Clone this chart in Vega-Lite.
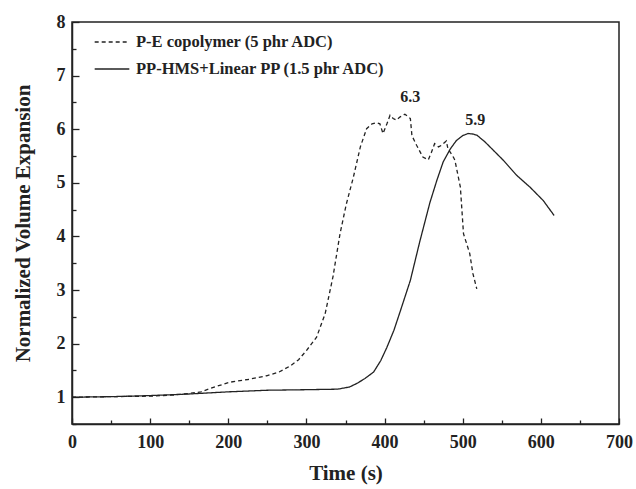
{
  "$schema": "https://vega.github.io/schema/vega-lite/v6.json",
  "width": 547,
  "height": 402,
  "autosize": {"type": "none"},
  "padding": {"left": 72, "top": 22, "right": 17, "bottom": 65},
  "background": "white",
  "config": {
    "view": {"stroke": "#222", "strokeWidth": 1.5},
    "font": "Liberation Serif"
  },
  "datasets": {
    "curves": [
      {"series": "P-E copolymer (5 phr ADC)", "t": 0, "v": 1.0},
      {"series": "P-E copolymer (5 phr ADC)", "t": 50, "v": 1.01},
      {"series": "P-E copolymer (5 phr ADC)", "t": 100, "v": 1.02},
      {"series": "P-E copolymer (5 phr ADC)", "t": 130, "v": 1.04},
      {"series": "P-E copolymer (5 phr ADC)", "t": 150, "v": 1.07},
      {"series": "P-E copolymer (5 phr ADC)", "t": 165, "v": 1.1},
      {"series": "P-E copolymer (5 phr ADC)", "t": 180, "v": 1.18},
      {"series": "P-E copolymer (5 phr ADC)", "t": 202, "v": 1.28},
      {"series": "P-E copolymer (5 phr ADC)", "t": 225, "v": 1.33},
      {"series": "P-E copolymer (5 phr ADC)", "t": 249, "v": 1.4},
      {"series": "P-E copolymer (5 phr ADC)", "t": 265, "v": 1.47},
      {"series": "P-E copolymer (5 phr ADC)", "t": 279, "v": 1.58},
      {"series": "P-E copolymer (5 phr ADC)", "t": 290, "v": 1.7},
      {"series": "P-E copolymer (5 phr ADC)", "t": 300, "v": 1.87},
      {"series": "P-E copolymer (5 phr ADC)", "t": 313, "v": 2.12},
      {"series": "P-E copolymer (5 phr ADC)", "t": 324, "v": 2.56},
      {"series": "P-E copolymer (5 phr ADC)", "t": 334, "v": 3.25},
      {"series": "P-E copolymer (5 phr ADC)", "t": 343, "v": 4.05},
      {"series": "P-E copolymer (5 phr ADC)", "t": 351, "v": 4.6},
      {"series": "P-E copolymer (5 phr ADC)", "t": 360, "v": 5.1},
      {"series": "P-E copolymer (5 phr ADC)", "t": 369, "v": 5.67},
      {"series": "P-E copolymer (5 phr ADC)", "t": 377, "v": 6.01},
      {"series": "P-E copolymer (5 phr ADC)", "t": 384, "v": 6.1},
      {"series": "P-E copolymer (5 phr ADC)", "t": 390, "v": 6.12},
      {"series": "P-E copolymer (5 phr ADC)", "t": 394, "v": 6.1},
      {"series": "P-E copolymer (5 phr ADC)", "t": 398, "v": 5.92},
      {"series": "P-E copolymer (5 phr ADC)", "t": 403, "v": 6.1},
      {"series": "P-E copolymer (5 phr ADC)", "t": 407, "v": 6.26},
      {"series": "P-E copolymer (5 phr ADC)", "t": 411, "v": 6.2},
      {"series": "P-E copolymer (5 phr ADC)", "t": 415, "v": 6.17},
      {"series": "P-E copolymer (5 phr ADC)", "t": 420, "v": 6.23},
      {"series": "P-E copolymer (5 phr ADC)", "t": 426, "v": 6.28},
      {"series": "P-E copolymer (5 phr ADC)", "t": 433, "v": 6.2},
      {"series": "P-E copolymer (5 phr ADC)", "t": 435, "v": 5.88},
      {"series": "P-E copolymer (5 phr ADC)", "t": 441, "v": 5.7},
      {"series": "P-E copolymer (5 phr ADC)", "t": 449, "v": 5.48},
      {"series": "P-E copolymer (5 phr ADC)", "t": 456, "v": 5.43},
      {"series": "P-E copolymer (5 phr ADC)", "t": 460, "v": 5.57},
      {"series": "P-E copolymer (5 phr ADC)", "t": 464, "v": 5.73},
      {"series": "P-E copolymer (5 phr ADC)", "t": 469, "v": 5.67},
      {"series": "P-E copolymer (5 phr ADC)", "t": 473, "v": 5.7},
      {"series": "P-E copolymer (5 phr ADC)", "t": 479, "v": 5.78},
      {"series": "P-E copolymer (5 phr ADC)", "t": 481, "v": 5.64},
      {"series": "P-E copolymer (5 phr ADC)", "t": 488, "v": 5.48},
      {"series": "P-E copolymer (5 phr ADC)", "t": 490, "v": 5.42},
      {"series": "P-E copolymer (5 phr ADC)", "t": 497, "v": 4.92},
      {"series": "P-E copolymer (5 phr ADC)", "t": 501, "v": 4.05},
      {"series": "P-E copolymer (5 phr ADC)", "t": 509, "v": 3.68},
      {"series": "P-E copolymer (5 phr ADC)", "t": 513, "v": 3.31},
      {"series": "P-E copolymer (5 phr ADC)", "t": 518, "v": 3.02},
      {"series": "PP-HMS+Linear PP (1.5 phr ADC)", "t": 0, "v": 1.0},
      {"series": "PP-HMS+Linear PP (1.5 phr ADC)", "t": 50, "v": 1.01},
      {"series": "PP-HMS+Linear PP (1.5 phr ADC)", "t": 100, "v": 1.03},
      {"series": "PP-HMS+Linear PP (1.5 phr ADC)", "t": 150, "v": 1.06},
      {"series": "PP-HMS+Linear PP (1.5 phr ADC)", "t": 200, "v": 1.1},
      {"series": "PP-HMS+Linear PP (1.5 phr ADC)", "t": 250, "v": 1.13},
      {"series": "PP-HMS+Linear PP (1.5 phr ADC)", "t": 300, "v": 1.14},
      {"series": "PP-HMS+Linear PP (1.5 phr ADC)", "t": 340, "v": 1.15},
      {"series": "PP-HMS+Linear PP (1.5 phr ADC)", "t": 355, "v": 1.19},
      {"series": "PP-HMS+Linear PP (1.5 phr ADC)", "t": 365, "v": 1.26},
      {"series": "PP-HMS+Linear PP (1.5 phr ADC)", "t": 375, "v": 1.35},
      {"series": "PP-HMS+Linear PP (1.5 phr ADC)", "t": 386, "v": 1.47},
      {"series": "PP-HMS+Linear PP (1.5 phr ADC)", "t": 395, "v": 1.68},
      {"series": "PP-HMS+Linear PP (1.5 phr ADC)", "t": 403, "v": 1.93},
      {"series": "PP-HMS+Linear PP (1.5 phr ADC)", "t": 412, "v": 2.25},
      {"series": "PP-HMS+Linear PP (1.5 phr ADC)", "t": 420, "v": 2.6},
      {"series": "PP-HMS+Linear PP (1.5 phr ADC)", "t": 433, "v": 3.18},
      {"series": "PP-HMS+Linear PP (1.5 phr ADC)", "t": 445, "v": 3.9},
      {"series": "PP-HMS+Linear PP (1.5 phr ADC)", "t": 458, "v": 4.63},
      {"series": "PP-HMS+Linear PP (1.5 phr ADC)", "t": 467, "v": 5.05},
      {"series": "PP-HMS+Linear PP (1.5 phr ADC)", "t": 475, "v": 5.39},
      {"series": "PP-HMS+Linear PP (1.5 phr ADC)", "t": 484, "v": 5.63},
      {"series": "PP-HMS+Linear PP (1.5 phr ADC)", "t": 492, "v": 5.79},
      {"series": "PP-HMS+Linear PP (1.5 phr ADC)", "t": 500, "v": 5.88},
      {"series": "PP-HMS+Linear PP (1.5 phr ADC)", "t": 507, "v": 5.92},
      {"series": "PP-HMS+Linear PP (1.5 phr ADC)", "t": 513, "v": 5.91},
      {"series": "PP-HMS+Linear PP (1.5 phr ADC)", "t": 518, "v": 5.89},
      {"series": "PP-HMS+Linear PP (1.5 phr ADC)", "t": 528, "v": 5.77},
      {"series": "PP-HMS+Linear PP (1.5 phr ADC)", "t": 539, "v": 5.61},
      {"series": "PP-HMS+Linear PP (1.5 phr ADC)", "t": 552, "v": 5.42},
      {"series": "PP-HMS+Linear PP (1.5 phr ADC)", "t": 569, "v": 5.14},
      {"series": "PP-HMS+Linear PP (1.5 phr ADC)", "t": 586, "v": 4.92},
      {"series": "PP-HMS+Linear PP (1.5 phr ADC)", "t": 603, "v": 4.67},
      {"series": "PP-HMS+Linear PP (1.5 phr ADC)", "t": 617, "v": 4.39}
    ],
    "labels": [
      {"t": 433, "v": 6.6, "text": "6.3"},
      {"t": 516, "v": 6.18, "text": "5.9"}
    ]
  },
  "encoding": {
    "x": {
      "field": "t", "type": "quantitative",
      "scale": {"domain": [0, 700], "nice": false},
      "axis": {
        "title": "Time (s)",
        "values": [0, 50, 100, 150, 200, 250, 300, 350, 400, 450, 500, 550, 600, 650, 700],
        "labelExpr": "datum.value % 100 == 0 ? datum.label : ''",
        "grid": false,
        "domainColor": "#222", "domainWidth": 1.5,
        "tickColor": "#222", "tickWidth": 1.3,
        "tickSize": {"condition": {"test": "datum.value % 100 == 0", "value": -6}, "value": -4},
        "labelFont": "Liberation Serif", "labelFontWeight": "bold", "labelFontSize": 18, "labelColor": "#222",
        "labelPadding": 15, "labelFlush": false, "labelOverlap": false,
        "titleFont": "Liberation Serif", "titleFontWeight": "bold", "titleFontSize": 21, "titleColor": "#222",
        "titlePadding": 9
      }
    },
    "y": {
      "field": "v", "type": "quantitative",
      "scale": {"domain": [0.5, 8], "nice": false, "zero": false},
      "axis": {
        "title": "Normalized Volume Expansion",
        "values": [0.5, 1, 1.5, 2, 2.5, 3, 3.5, 4, 4.5, 5, 5.5, 6, 6.5, 7, 7.5, 8],
        "labelExpr": "datum.value % 1 == 0 ? format(datum.value, 'd') : ''",
        "grid": false,
        "domainColor": "#222", "domainWidth": 1.5,
        "tickColor": "#222", "tickWidth": 1.3,
        "tickSize": {"condition": {"test": "datum.value % 1 == 0", "value": -7}, "value": -4},
        "labelFont": "Liberation Serif", "labelFontWeight": "bold", "labelFontSize": 18, "labelColor": "#222",
        "labelPadding": 14, "labelFlush": false, "labelOverlap": false,
        "titleFont": "Liberation Serif", "titleFontWeight": "bold", "titleFontSize": 21, "titleColor": "#222",
        "titlePadding": 23
      }
    }
  },
  "layer": [
    {
      "data": {"name": "curves"},
      "mark": {"type": "line", "color": "#222", "strokeWidth": 1.3},
      "encoding": {
        "strokeDash": {
          "field": "series", "type": "nominal",
          "scale": {
            "domain": ["P-E copolymer (5 phr ADC)", "PP-HMS+Linear PP (1.5 phr ADC)"],
            "range": [[4, 3], [1, 0]]
          },
          "legend": {
            "title": null,
            "orient": "none",
            "legendX": 22,
            "legendY": 2,
            "symbolType": "stroke",
            "symbolSize": 1200,
            "symbolStrokeWidth": 1.3,
            "symbolStrokeColor": "#222",
            "labelFont": "Liberation Serif", "labelFontWeight": "bold", "labelFontSize": 16.5, "labelColor": "#222",
            "labelOffset": 6,
            "labelLimit": 400,
            "rowPadding": -18
          }
        }
      }
    },
    {
      "data": {"name": "labels"},
      "mark": {"type": "text", "font": "Liberation Serif", "fontWeight": "bold", "fontSize": 16, "color": "#222", "baseline": "middle"},
      "encoding": {
        "text": {"field": "text"}
      }
    }
  ]
}
